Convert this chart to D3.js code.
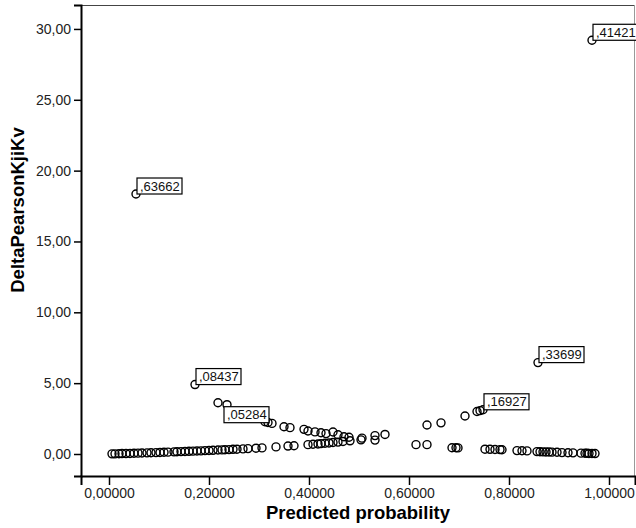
<!DOCTYPE html>
<html>
<head>
  <title>DeltaPearsonKjiKv vs Predicted probability</title>
  <style>
    html, body { margin:0; padding:0; background:white; }
    svg { display:block; }
    text { font-family: "Liberation Sans", Arial, sans-serif; }
  </style>
  <script src="https://d3js.org/d3.v7.min.js"></script>
</head>
<body>
<svg id="canvas" width="636" height="528"></svg>
<script>
  // predicted probability / delta chi-square
  var prob = [0.006,0.012,0.020,0.026,0.034,0.042,0.050,0.058,0.066,0.076,0.084,0.094,0.102,0.110,0.118,
              0.130,0.136,0.144,0.152,0.160,0.168,0.176,0.184,0.192,0.200,0.208,0.218,0.226,
              0.232,0.240,0.248,0.256,0.268,0.278,0.294,0.306,0.334,0.358,0.370,0.398,0.408,0.418,0.424,0.432,0.440,0.448,0.458,0.468,0.482,0.504,
              0.218,0.312,0.318,0.326,0.350,0.362,0.390,0.398,0.412,0.424,0.434,0.448,0.458,0.470,0.480,0.506,0.532,0.532,0.552,
              0.614,0.636,0.686,0.694,0.698,0.752,0.762,0.772,0.782,0.786,0.816,0.826,0.836,0.856,0.862,0.868,0.874,0.880,0.886,0.896,0.906,0.918,0.928,0.944,0.952,0.956,0.960,0.966,0.972,
              0.636,0.664,0.712,0.736,0.742];
  var delta = [0.01,0.01,0.02,0.03,0.03,0.04,0.05,0.06,0.07,0.08,0.09,0.10,0.11,0.12,0.13,
               0.15,0.16,0.17,0.18,0.19,0.20,0.21,0.22,0.24,0.25,0.26,0.28,0.29,
               0.30,0.31,0.33,0.34,0.36,0.38,0.41,0.43,0.50,0.56,0.58,0.66,0.69,0.71,0.73,0.76,0.78,0.81,0.84,0.88,0.93,1.00,
               3.62,2.28,2.22,2.16,1.92,1.86,1.74,1.62,1.56,1.50,1.44,1.55,1.36,1.22,1.18,1.12,1.30,0.98,1.38,
               0.66,0.66,0.44,0.44,0.43,0.34,0.33,0.32,0.31,0.30,0.24,0.23,0.22,0.17,0.16,0.15,0.14,0.14,0.13,0.12,0.10,0.09,0.08,0.06,0.05,0.05,0.04,0.04,0.03,
               2.05,2.20,2.68,3.00,3.06];

  // labelled cases
  var idProb  = [0.054, 0.172, 0.236, 0.748, 0.858, 0.966];
  var idDelta = [18.35, 4.90, 3.48, 3.12, 6.45, 29.20];
  var idText  = [",63662", ",08437", ",05284", ",16927", ",33699", ",41421"];
  var idBelow = [false, false, true, false, false, false];

  var yTicks = [0, 5, 10, 15, 20, 25, 30];
  var xTicks = [0, 0.2, 0.4, 0.6, 0.8, 1.0];

  var svg = d3.select("#canvas");
  var plotLeft = 81, plotRight = 635, plotTop = 5, plotBottom = 476;

  var x = d3.scaleLinear().domain([-0.056, 1.052]).range([plotLeft, plotRight]);
  var y = d3.scaleLinear().domain([-1.553, 31.69]).range([plotBottom, plotTop]);

  var comma = d3.formatLocale({decimal: ",", thousands: ".", grouping: [3], currency: ["", ""]});

  // frame
  svg.append("line").attr("x1", plotLeft).attr("x2", plotRight).attr("y1", plotTop + 0.5).attr("y2", plotTop + 0.5)
    .attr("stroke", "#444").attr("stroke-width", 1.2);
  svg.append("line").attr("x1", plotRight - 0.5).attr("x2", plotRight - 0.5).attr("y1", plotTop).attr("y2", plotBottom)
    .attr("stroke", "#999").attr("stroke-width", 1);

  var yAxis = svg.append("g").attr("transform", "translate(" + plotLeft + ",0)")
    .call(d3.axisLeft(y).tickValues(yTicks).tickSize(7).tickPadding(3).tickFormat(comma.format(".2f")));
  var xAxis = svg.append("g").attr("transform", "translate(0," + plotBottom + ")")
    .call(d3.axisBottom(x).tickValues(xTicks).tickSize(9).tickPadding(3).tickFormat(comma.format(".5f")));

  [yAxis, xAxis].forEach(function(a) {
    a.select(".domain").attr("stroke", "#000").attr("stroke-width", 2);
    a.selectAll(".tick line").attr("stroke", "#000").attr("stroke-width", 1.5);
    a.selectAll(".tick text").attr("fill", "#222").style("font-size", "14px")
      .style("font-family", "'Liberation Sans', Arial, sans-serif");
  });

  svg.append("text").text("Predicted probability")
    .attr("x", (plotLeft + plotRight) / 2).attr("y", 519)
    .attr("text-anchor", "middle")
    .style("font-weight", "bold").style("font-size", "18.5px");

  svg.append("text").text("DeltaPearsonKjiKv")
    .attr("transform", "translate(24,210) rotate(-90)")
    .attr("text-anchor", "middle")
    .style("font-weight", "bold").style("font-size", "18.5px");

  // points
  var pts = d3.range(prob.length).map(function(i) { return [prob[i], delta[i]]; })
    .concat(d3.range(idProb.length).map(function(i) { return [idProb[i], idDelta[i]]; }));

  svg.append("g").selectAll("circle").data(pts).enter().append("circle")
    .attr("cx", function(d) { return x(d[0]); })
    .attr("cy", function(d) { return y(d[1]); })
    .attr("r", 4)
    .attr("fill", "none")
    .attr("stroke", "#000")
    .attr("stroke-width", 1.4);

  // case id labels
  var lab = svg.append("g").selectAll("g").data(idText).enter().append("g")
    .attr("transform", function(d, i) {
      var px = x(idProb[i]), py = y(idDelta[i]);
      return idBelow[i] ? "translate(" + (px - 3) + "," + (py + 2) + ")"
                        : "translate(" + (px + 1) + "," + (py - 16) + ")";
    });
  lab.append("rect").attr("width", 45).attr("height", 16)
    .attr("fill", "white").attr("stroke", "#000").attr("stroke-width", 1.2);
  lab.append("text").text(function(d) { return d; })
    .attr("x", 3).attr("y", 12.5)
    .style("font-size", "13px").attr("fill", "#111");
</script>
</body>
</html>
